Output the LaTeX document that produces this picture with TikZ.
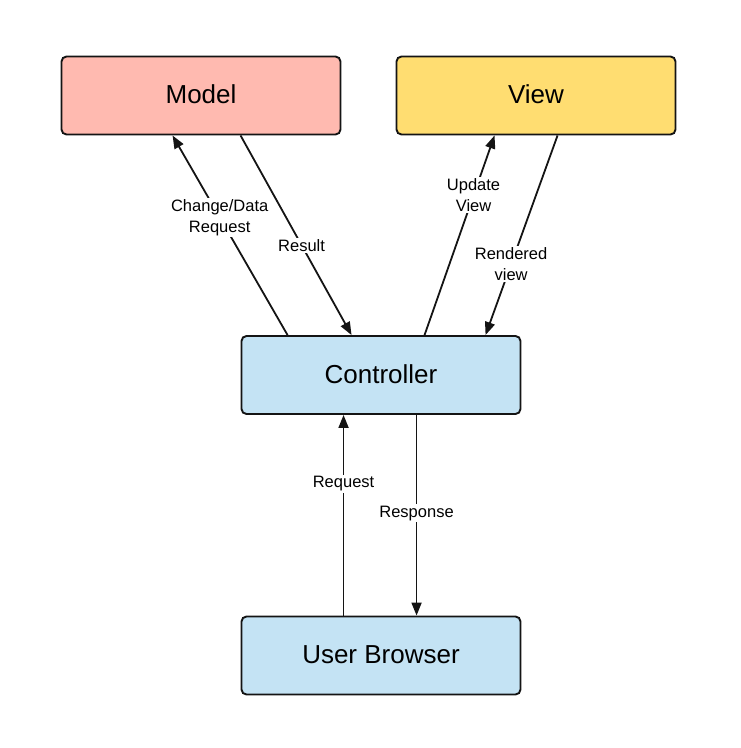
\documentclass[tikz,border=0pt]{standalone}
\usepackage{fontspec}
\setmainfont{Liberation Sans}
\usetikzlibrary{arrows.meta}
\definecolor{modelfill}{RGB}{255,186,176}
\definecolor{viewfill}{RGB}{255,221,113}
\definecolor{ctrlfill}{RGB}{196,227,244}
\definecolor{edgecol}{RGB}{20,20,20}
\tikzset{
  box/.style={draw=edgecol, line width=1.9pt, rounded corners=5pt, minimum width=279pt, minimum height=78pt, inner sep=0pt, font=\fontsize{26}{30}\selectfont},
  conn/.style={draw=edgecol, line width=1.8pt, -{Triangle[length=13pt,width=10pt]}},
  lbl/.style={fill=white, inner sep=1.5pt, align=center, font=\fontsize{16.5}{21}\selectfont}
}
\begin{document}
\begin{tikzpicture}[x=1pt,y=-1pt]
\useasboundingbox (0,0) rectangle (740,748);
\node[box, fill=modelfill] (model) at (201,95.5) {\raisebox{2pt}{Model}};
\node[box, fill=viewfill] (view) at (536,95.5) {\raisebox{2pt}{View}};
\node[box, fill=ctrlfill] (ctrl) at (381,375) {\raisebox{2pt}{Controller}};
\node[box, fill=ctrlfill] (user) at (381,655.5) {\raisebox{2pt}{User Browser}};

\draw[conn] ([xshift=47pt]ctrl.north west) -- node[lbl, pos=0.59] (l1) {Change/Data\\Request} ([xshift=112pt]model.south west);
\draw[conn] ([xshift=180pt]model.south west) -- node[lbl, pos=0.55] (l2) {Result} ([xshift=111pt]ctrl.north west);
\draw[conn] ([xshift=184pt]ctrl.north west) -- node[lbl, pos=0.70] (l3) {Update\\View} ([xshift=99pt]view.south west);
\draw[conn] ([xshift=162pt]view.south west) -- node[lbl, pos=0.645] (l4) {Rendered\\view} ([xshift=245pt]ctrl.north west);
\draw[conn] ([xshift=103pt]user.north west) -- node[lbl, pos=0.657] (l5) {Request} ([xshift=103pt]ctrl.south west);
\draw[conn] ([xshift=176pt]ctrl.south west) -- node[lbl, pos=0.49] (l6) {Response} ([xshift=176pt]user.north west);
\end{tikzpicture}
\end{document}
